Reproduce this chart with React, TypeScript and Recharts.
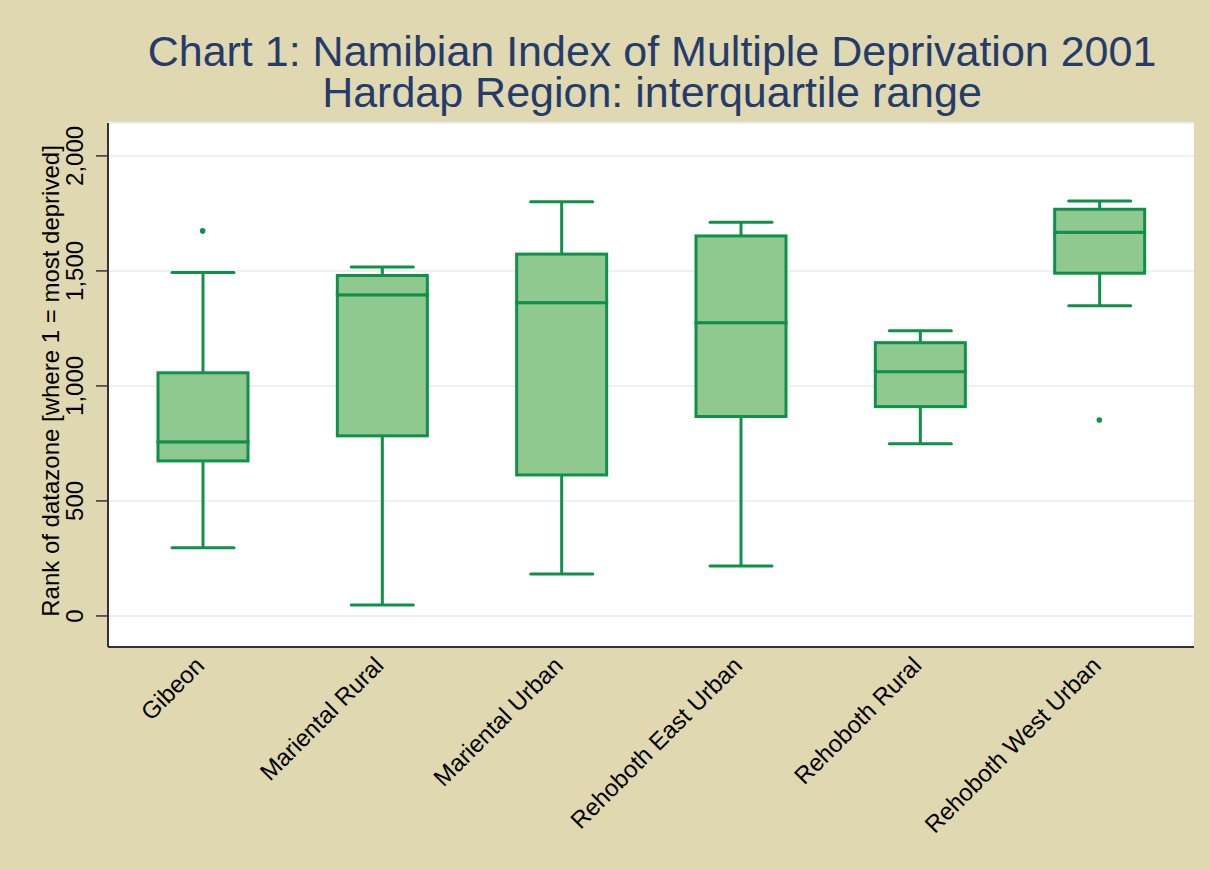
import { ComposedChart, Bar, Scatter, XAxis, YAxis, CartesianGrid } from 'recharts'

const categories = [
  'Gibeon',
  'Mariental Rural',
  'Mariental Urban',
  'Rehoboth East Urban',
  'Rehoboth Rural',
  'Rehoboth West Urban',
]
const lowerWhisker = [296, 48, 182, 217, 749, 1349]
const lowerQuartile = [674, 783, 613, 867, 910, 1490]
const medians = [757, 1396, 1362, 1275, 1062, 1668]
const upperQuartile = [1057, 1480, 1573, 1652, 1188, 1768]
const upperWhisker = [1493, 1517, 1801, 1711, 1240, 1804]
const outliers: (number | null)[] = [1674, null, null, null, null, 852]
const yTicks = [0, 500, 1000, 1500, 2000]

const BG = '#dfd8b0'
const NAVY = '#253c6a'
const GREEN = '#11904a'
const BOX_FILL = '#8fc98f'
const GRID = '#eaf2f4'
const AXIS = '#333333'
const FONT = '"Liberation Sans", Arial, sans-serif'
const CAP = 62

// stacked segments: base (hidden) -> lower whisker -> lower box -> upper box -> upper whisker
const data = categories.map((name, i) => ({
  name,
  base: lowerWhisker[i],
  lowW: lowerQuartile[i] - lowerWhisker[i],
  lowB: medians[i] - lowerQuartile[i],
  highB: upperQuartile[i] - medians[i],
  highW: upperWhisker[i] - upperQuartile[i],
  outlier: outliers[i],
}))

const BoxShape = (p: any) => (
  <rect x={p.x} y={p.y} width={p.width} height={p.height} fill={BOX_FILL} stroke={GREEN} strokeWidth={3} />
)

const LowWhisker = (p: any) => {
  const cx = p.x + p.width / 2
  const bottom = p.y + p.height
  return (
    <g stroke={GREEN} strokeWidth={3}>
      <line x1={cx} x2={cx} y1={p.y} y2={bottom} />
      <line x1={cx - CAP / 2} x2={cx + CAP / 2} y1={bottom} y2={bottom} strokeLinecap="round" />
    </g>
  )
}

const HighWhisker = (p: any) => {
  const cx = p.x + p.width / 2
  return (
    <g stroke={GREEN} strokeWidth={3}>
      <line x1={cx} x2={cx} y1={p.y} y2={p.y + p.height} />
      <line x1={cx - CAP / 2} x2={cx + CAP / 2} y1={p.y} y2={p.y} strokeLinecap="round" />
    </g>
  )
}

const OutlierDot = (p: any) => {
  if (p.payload?.outlier == null || !Number.isFinite(p.cy)) return <g />
  return <circle cx={p.cx} cy={p.cy} r={2.8} fill={GREEN} />
}

const YTick = ({ x, y, payload }: any) => (
  <text
    x={x}
    y={y}
    transform={`rotate(-90, ${x}, ${y})`}
    textAnchor="middle"
    fontSize={24}
    fontFamily={FONT}
    fill="#000"
  >
    {Number(payload.value).toLocaleString('en-US')}
  </text>
)

const XTick = ({ x, y, payload }: any) => (
  <text
    x={x + 3}
    y={y}
    transform={`rotate(-45, ${x + 3}, ${y})`}
    textAnchor="end"
    fontSize={24}
    fontFamily={FONT}
    fill="#000"
  >
    {payload.value}
  </text>
)

export default function App() {
  return (
    <div style={{ position: 'absolute', left: 0, top: 0, width: 1210, height: 870, background: BG }}>
      <ComposedChart
        width={1210}
        height={870}
        data={data}
        margin={{ top: 123, right: 16, bottom: 43, left: 48 }}
      >
        <CartesianGrid vertical={false} fill="#ffffff" stroke={GRID} strokeWidth={2} />
        <XAxis
          dataKey="name"
          type="category"
          padding={{ left: 5, right: 5 }}
          height={180}
          tickLine={false}
          tickSize={0}
          tickMargin={20}
          axisLine={{ stroke: AXIS, strokeWidth: 2 }}
          tick={<XTick />}
          interval={0}
        />
        <YAxis
          type="number"
          domain={[-135, 2143]}
          ticks={yTicks}
          allowDataOverflow
          width={60}
          tickSize={12}
          tickMargin={13}
          tickLine={{ stroke: AXIS, strokeWidth: 1.5 }}
          axisLine={{ stroke: AXIS, strokeWidth: 2 }}
          tick={<YTick />}
        />
        <Bar dataKey="base" stackId="box" barSize={90} fill="none" shape={() => <g />} isAnimationActive={false} />
        <Bar dataKey="lowW" stackId="box" barSize={90} shape={LowWhisker} isAnimationActive={false} />
        <Bar dataKey="lowB" stackId="box" barSize={90} shape={BoxShape} isAnimationActive={false} />
        <Bar dataKey="highB" stackId="box" barSize={90} shape={BoxShape} isAnimationActive={false} />
        <Bar dataKey="highW" stackId="box" barSize={90} shape={HighWhisker} isAnimationActive={false} />
        <Scatter dataKey="outlier" shape={OutlierDot} isAnimationActive={false} />
      </ComposedChart>
      <svg
        width={1210}
        height={870}
        style={{ position: 'absolute', left: 0, top: 0, pointerEvents: 'none' }}
      >
        <text x={652} y={66} textAnchor="middle" fontSize={43} fontFamily={FONT} fill={NAVY}>
          Chart 1: Namibian Index of Multiple Deprivation 2001
        </text>
        <text x={652} y={107} textAnchor="middle" fontSize={43} fontFamily={FONT} fill={NAVY}>
          Hardap Region: interquartile range
        </text>
        <text
          x={59}
          y={381}
          transform="rotate(-90, 59, 381)"
          textAnchor="middle"
          fontSize={24}
          fontFamily={FONT}
          fill="#000"
        >
          Rank of datazone [where 1 = most deprived]
        </text>
      </svg>
    </div>
  )
}
